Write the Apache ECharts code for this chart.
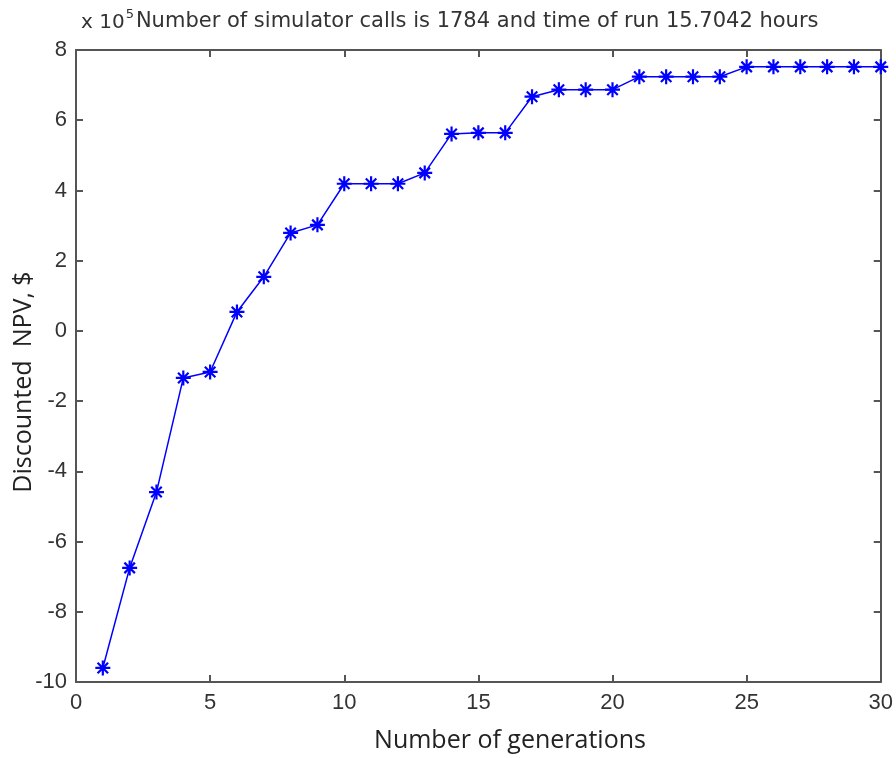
<!DOCTYPE html>
<html>
<head>
<meta charset="utf-8">
<script src="https://cdn.jsdelivr.net/npm/echarts@6/dist/echarts.min.js"></script>
<style>
  html, body { margin: 0; padding: 0; background: #fff; }
  #chart { width: 896px; height: 758px; }
</style>
</head>
<body>
<div id="chart"></div>
<script>
// generation number and best discounted NPV (x 10^5 $)
var generations = [1, 2, 3, 4, 5, 6, 7, 8, 9, 10, 11, 12, 13, 14, 15,
  16, 17, 18, 19, 20, 21, 22, 23, 24, 25, 26, 27, 28, 29, 30];
var npv = [-9.6, -6.75, -4.59, -1.34, -1.17, 0.54, 1.54, 2.79, 3.02, 4.19, 4.19, 4.19, 4.5, 5.61, 5.64,
  5.64, 6.67, 6.87, 6.87, 6.87, 7.24, 7.24, 7.24, 7.24, 7.52, 7.52, 7.52, 7.52, 7.52, 7.52];

var chart = echarts.init(document.getElementById('chart'));

var tickFont = {
  color: '#333',
  fontFamily: 'Liberation Sans',
  fontSize: 22
};

var lineStyleAxis = { color: '#555', width: 2 };

// star marker like matlab '*'
var star = 'path://M0,-10L0,10M-10,0L10,0M-7,-7L7,7M-7,7L7,-7';

var pts = generations.map(function (g, i) { return [g, npv[i]]; });

chart.setOption({
  animation: false,
  title: {
    left: 76,
    top: 2,
    text: '{x|x 10}{sup|5}{t|Number of simulator calls is 1784 and time of run 15.7042 hours}',
    textStyle: {
      fontWeight: 'normal',
      rich: {
        x: { fontFamily: 'DejaVu Sans', fontSize: 20, color: '#333', padding: [6, 0, 0, 0] },
        sup: { fontFamily: 'DejaVu Sans', fontSize: 13, color: '#333', padding: [0, 2, 10, 1] },
        t: { fontFamily: 'DejaVu Sans', fontSize: 21, color: '#333', padding: [4, 0, 0, 0] }
      }
    }
  },
  graphic: [{
    type: 'text',
    x: 510, y: 741,
    style: {
      text: 'Number of generations',
      font: '25px "Open Sans"',
      fill: '#222',
      align: 'center',
      verticalAlign: 'middle'
    }
  }, {
    type: 'text',
    x: 24, y: 382,
    rotation: Math.PI / 2,
    style: {
      text: 'Discounted  NPV, $',
      font: '25px "Open Sans"',
      fill: '#222',
      align: 'center',
      verticalAlign: 'middle'
    }
  }],
  grid: { left: 76, right: 14, top: 50, bottom: 76 },
  xAxis: [{
    type: 'value',
    min: 0, max: 30, interval: 5,
    axisLine: { show: true, onZero: false, lineStyle: lineStyleAxis },
    axisTick: { show: true, inside: true, length: 7, lineStyle: lineStyleAxis },
    axisLabel: Object.assign({ margin: 10 }, tickFont),
    splitLine: { show: false }
  }, {
    type: 'value',
    position: 'top',
    min: 0, max: 30, interval: 5,
    axisLine: { show: true, onZero: false, lineStyle: lineStyleAxis },
    axisTick: { show: true, inside: true, length: 7, lineStyle: lineStyleAxis },
    axisLabel: { show: false },
    splitLine: { show: false }
  }],
  yAxis: [{
    type: 'value',
    min: -10, max: 8, interval: 2,
    axisLine: { show: true, onZero: false, lineStyle: lineStyleAxis },
    axisTick: { show: true, inside: true, length: 7, lineStyle: lineStyleAxis },
    axisLabel: Object.assign({ margin: 9 }, tickFont),
    splitLine: { show: false }
  }, {
    type: 'value',
    position: 'right',
    min: -10, max: 8, interval: 2,
    axisLine: { show: true, onZero: false, lineStyle: lineStyleAxis },
    axisTick: { show: true, inside: true, length: 7, lineStyle: lineStyleAxis },
    axisLabel: { show: false },
    splitLine: { show: false }
  }],
  series: [{
    type: 'line',
    data: pts,
    symbol: star,
    symbolSize: 15,
    showAllSymbol: true,
    lineStyle: { color: '#0000ff', width: 1.5 },
    itemStyle: { color: '#0000ff', borderColor: '#0000ff', borderWidth: 2.2 }
  }]
});
</script>
</body>
</html>
